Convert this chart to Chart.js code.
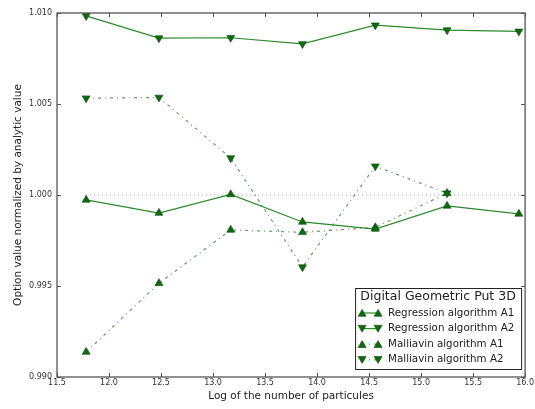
<!DOCTYPE html>
<html lang="en">
<head>
    <meta charset="UTF-8">
    <title>Digital Geometric Put 3D</title>
    <script src="https://cdn.jsdelivr.net/npm/chart.js"></script>
    <style>
        html, body {
            margin: 0;
            padding: 0;
            background: #ffffff;
        }
        #wrap {
            width: 535px;
            height: 409px;
        }
    </style>
</head>
<body>
    <div id="wrap"><canvas id="chart" width="535" height="409"></canvas></div>

    <script>
        // log of number of particles (ln 2^17 ... ln 2^23)
        const logN = [11.78, 12.48, 13.17, 13.86, 14.56, 15.25, 15.94];
        const regressionA1 = [0.99973, 0.99901, 1.00003, 0.99852, 0.99813, 0.99940, 0.99896];
        const regressionA2 = [1.00984, 1.00862, 1.00864, 1.00830, 1.00933, 1.00906, 1.00899];
        const malliavinA1 = [0.99137, 0.99515, 0.99808, 0.99795, 0.99822, 1.00010];
        const malliavinA2 = [1.00532, 1.00536, 1.00203, 0.99604, 1.00158, 1.00010];
        const analyticX = [11.78, 16.0];
        const analyticY = [1.0, 1.0];

        const xTicks = [11.5, 12.0, 12.5, 13.0, 13.5, 14.0, 14.5, 15.0, 15.5, 16.0];
        const yTicks = [0.990, 0.995, 1.000, 1.005, 1.010];

        const legendTitle = 'Digital Geometric Put 3D';

        const solidColor = '#2b8c2b';
        const dashColor = 'rgba(45,125,45,0.75)';
        const markerFill = '#0e6a0e';
        const markerEdge = '#0a4a0a';
        const dashDot = [3, 4, 1, 4];

        function pts(xs, ys) {
            return ys.map((y, i) => ({ x: xs[i], y: y }));
        }

        function drawTri(ctx, x, y, r, down) {
            const s = down ? -1 : 1;
            ctx.beginPath();
            ctx.moveTo(x, y - s * r);
            ctx.lineTo(x + r * 0.866, y + s * r * 0.5);
            ctx.lineTo(x - r * 0.866, y + s * r * 0.5);
            ctx.closePath();
            ctx.fillStyle = markerFill;
            ctx.fill();
            ctx.lineWidth = 0.6;
            ctx.strokeStyle = markerEdge;
            ctx.stroke();
        }

        const frameAndLegend = {
            id: 'frameAndLegend',
            afterDraw(chart) {
                const ctx = chart.ctx;
                const a = chart.chartArea;
                const xs = chart.scales.x;
                const ys = chart.scales.y;
                ctx.save();

                // frame
                ctx.strokeStyle = '#555555';
                ctx.lineWidth = 1.3;
                ctx.strokeRect(a.left, a.top, a.right - a.left, a.bottom - a.top);

                // inward ticks on all sides
                ctx.lineWidth = 1;
                ctx.beginPath();
                xTicks.forEach(v => {
                    const px = Math.round(xs.getPixelForValue(v)) + 0.5;
                    ctx.moveTo(px, a.bottom); ctx.lineTo(px, a.bottom - 4);
                    ctx.moveTo(px, a.top); ctx.lineTo(px, a.top + 4);
                });
                yTicks.forEach(v => {
                    const py = Math.round(ys.getPixelForValue(v)) + 0.5;
                    ctx.moveTo(a.left, py); ctx.lineTo(a.left + 4, py);
                    ctx.moveTo(a.right, py); ctx.lineTo(a.right - 4, py);
                });
                ctx.stroke();

                // legend box, lower right
                const bw = 166, bh = 81;
                const bx = a.right - 4 - bw;
                const by = a.bottom - 8 - bh;
                ctx.fillStyle = '#ffffff';
                ctx.fillRect(bx, by, bw, bh);
                ctx.strokeStyle = '#222222';
                ctx.lineWidth = 1;
                ctx.strokeRect(bx + 0.5, by + 0.5, bw, bh);

                ctx.fillStyle = '#222222';
                ctx.textBaseline = 'middle';
                ctx.textAlign = 'center';
                ctx.font = '12.5px "DejaVu Sans"';
                ctx.fillText(legendTitle, bx + bw / 2, by + 8.5);

                ctx.textAlign = 'left';
                ctx.font = '10.3px "DejaVu Sans"';
                const ds = chart.data.datasets.filter(d => !d.hideInLegend);
                ds.forEach((d, i) => {
                    const ry = by + 25 + i * 15.6;
                    const x1 = bx + 7, x2 = bx + 23;
                    ctx.save();
                    ctx.strokeStyle = d.borderColor;
                    ctx.lineWidth = d.borderWidth;
                    ctx.setLineDash(d.borderDash || []);
                    ctx.beginPath();
                    ctx.moveTo(x1, ry); ctx.lineTo(x2, ry);
                    ctx.stroke();
                    ctx.restore();
                    const down = d.pointRotation === 180;
                    drawTri(ctx, x1, ry + (down ? -1 : 1), 4.6, down);
                    drawTri(ctx, x2, ry + (down ? -1 : 1), 4.6, down);
                    ctx.fillStyle = '#222222';
                    ctx.fillText(d.label, bx + 33, ry);
                });

                ctx.restore();
            }
        };

        const common = {
            pointStyle: 'triangle',
            pointRadius: 4.6,
            pointBackgroundColor: markerFill,
            pointBorderColor: markerEdge,
            pointBorderWidth: 0.6,
            borderWidth: 1.2,
            tension: 0,
            fill: false
        };

        new Chart(document.getElementById('chart').getContext('2d'), {
            type: 'scatter',
            data: {
                datasets: [
                    Object.assign({}, common, {
                        label: 'Regression algorithm A1',
                        data: pts(logN, regressionA1),
                        showLine: true,
                        borderColor: solidColor,
                        pointRotation: 0
                    }),
                    Object.assign({}, common, {
                        label: 'Regression algorithm A2',
                        data: pts(logN, regressionA2),
                        showLine: true,
                        borderColor: solidColor,
                        pointRotation: 180
                    }),
                    Object.assign({}, common, {
                        label: 'Malliavin algorithm A1',
                        data: pts(logN, malliavinA1),
                        showLine: true,
                        borderColor: dashColor,
                        borderDash: dashDot,
                        pointRotation: 0
                    }),
                    Object.assign({}, common, {
                        label: 'Malliavin algorithm A2',
                        data: pts(logN, malliavinA2),
                        showLine: true,
                        borderColor: dashColor,
                        borderDash: dashDot,
                        pointRotation: 180
                    }),
                    {
                        label: 'Analytic',
                        hideInLegend: true,
                        data: pts(analyticX, analyticY),
                        showLine: true,
                        borderColor: 'rgba(90,175,110,0.9)',
                        borderWidth: 1,
                        borderDash: [1, 3],
                        pointRadius: 0,
                        order: 10
                    }
                ]
            },
            options: {
                responsive: false,
                animation: false,
                layout: { padding: { left: 0, right: 9, top: 13, bottom: 0 } },
                plugins: {
                    legend: { display: false },
                    tooltip: { enabled: false }
                },
                scales: {
                    x: {
                        type: 'linear',
                        min: 11.5,
                        max: 16.0,
                        afterBuildTicks: s => { s.ticks = xTicks.map(v => ({ value: v })); },
                        afterFit: s => { s.height = 32; },
                        grid: { display: false, drawTicks: false },
                        border: { display: false },
                        ticks: {
                            padding: 1,
                            maxRotation: 0,
                            autoSkip: false,
                            color: '#333333',
                            font: { family: 'DejaVu Sans', size: 8 },
                            callback: v => v.toFixed(1)
                        },
                        title: {
                            display: true,
                            text: 'Log of the number of particules',
                            color: '#222222',
                            font: { family: 'DejaVu Sans', size: 10.5 },
                            padding: { top: 0, bottom: 6 }
                        }
                    },
                    y: {
                        type: 'linear',
                        min: 0.990,
                        max: 1.010,
                        afterBuildTicks: s => { s.ticks = yTicks.map(v => ({ value: v })); },
                        afterFit: s => { s.width = 57; },
                        grid: { display: false, drawTicks: false },
                        border: { display: false },
                        ticks: {
                            padding: 5,
                            autoSkip: false,
                            color: '#333333',
                            font: { family: 'DejaVu Sans', size: 8 },
                            callback: v => v.toFixed(3)
                        },
                        title: {
                            display: true,
                            text: 'Option value normalized by analytic value',
                            color: '#222222',
                            font: { family: 'DejaVu Sans', size: 10.5 },
                            padding: { top: 12, bottom: 0 }
                        }
                    }
                }
            },
            plugins: [frameAndLegend]
        });
    </script>
</body>
</html>
